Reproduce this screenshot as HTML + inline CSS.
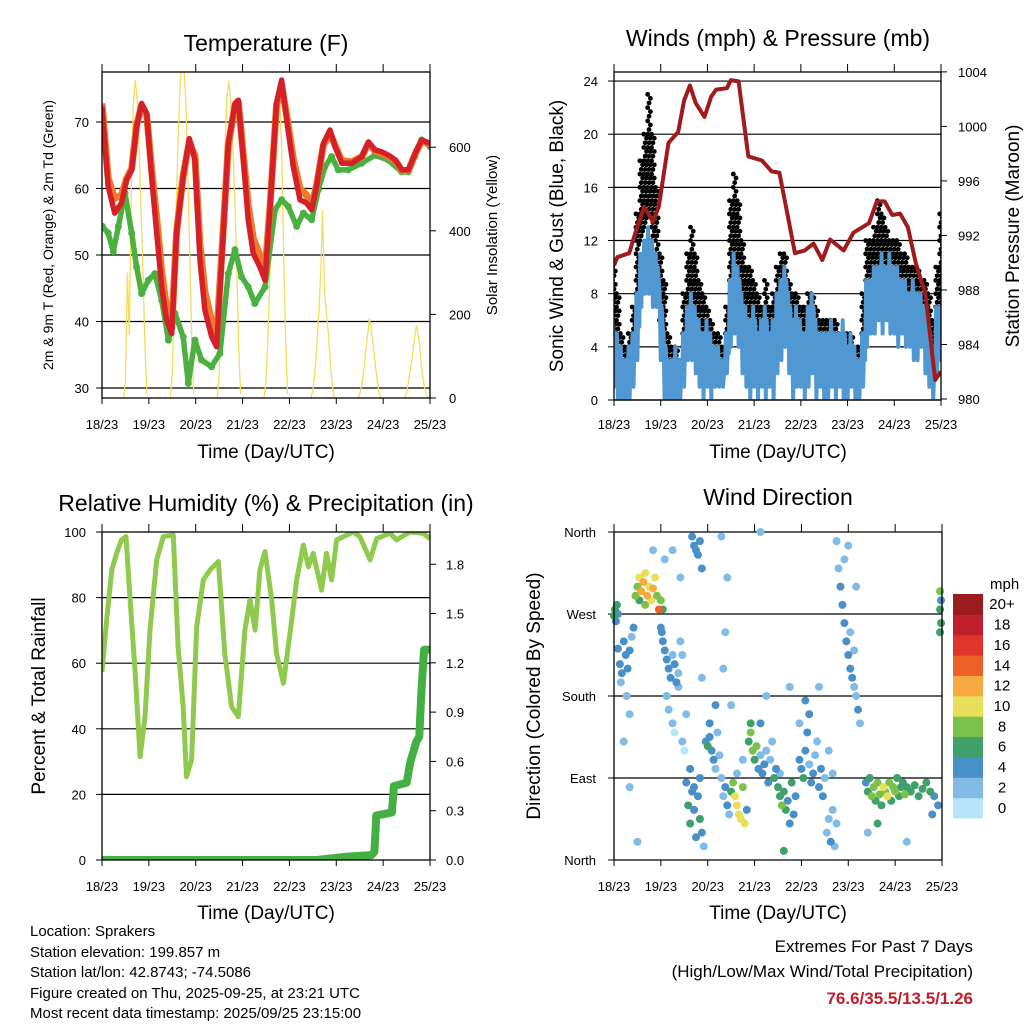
<!DOCTYPE html>
<html><head><meta charset="utf-8"><style>
html,body{margin:0;padding:0;background:#fff;}
svg{display:block;font-family:"Liberation Sans",Arial,sans-serif;}
</style></head><body>
<svg id="s" width="1024" height="1024" viewBox="0 0 1024 1024" xmlns="http://www.w3.org/2000/svg">
<defs>
<clipPath id="cT"><rect x="102" y="72" width="328" height="326"/></clipPath>
<clipPath id="cW"><rect x="614" y="72" width="327" height="328"/></clipPath>
<clipPath id="cR"><rect x="102" y="532" width="328" height="328"/></clipPath>
<clipPath id="cD"><rect x="610" y="526" width="336" height="338"/></clipPath>
</defs>
<g id="gT"></g>
<g id="gW"></g>
<g id="gR"></g>
<g id="gD"></g>
<g font-size="15" fill="#000">
<text x="30" y="936">Location: Sprakers</text>
<text x="30" y="957">Station elevation: 199.857 m</text>
<text x="30" y="977">Station lat/lon: 42.8743; -74.5086</text>
<text x="30" y="998">Figure created on Thu, 2025-09-25, at 23:21 UTC</text>
<text x="30" y="1018">Most recent data timestamp: 2025/09/25 23:15:00</text>
</g>
<g text-anchor="end">
<text x="973" y="952" font-size="17">Extremes For Past 7 Days</text>
<text x="973" y="977" font-size="17">(High/Low/Max Wind/Total Precipitation)</text>
<text x="973" y="1004" font-size="17" font-weight="bold" fill="#c0202a">76.6/35.5/13.5/1.26</text>
</g>
</svg>
<script>
// ---------- DATA ----------
const dayLabels = ["18/23","19/23","20/23","21/23","22/23","23/23","24/23","25/23"];
const tempTicks = [30,40,50,60,70];
const solarTicks = [0,200,400,600];
const redT = [0,3.2,6.5,10,12.6,15.2,17.7,20.3,22.9,25.4,28,30.6,33.1,35.7,38.2,41.6,44.7,47.6,50.2,52.7,56.2,58.7,61.3,64.7,68.1,69.8,72.4,74.9,77.5,80.9,83.5,86,89.4,92,94.6,98,101.4,104.8,107.4,109.9,113.4,116.8,119.4,122.8,127.9,133.1,136.5,139.9,143.4,146.8,150.2,153.6,157,160.4,163.8,168];
const redV = [72.3,60.3,56.3,57.8,61.3,62.8,69.3,72.8,71.3,61.8,53.3,45.2,40.2,38.2,53.3,61.8,67.5,64.3,49.2,41.7,37.7,36.2,49.2,66.8,72.8,73.3,64.3,55.3,50.2,48.2,46.2,56.8,72.8,76.3,70.3,63.3,58.3,57.8,56.8,60.3,66.8,68.8,66.3,63.8,63.8,64.8,67.0,65.8,65.5,65.0,64.3,62.8,62.8,65.3,67.3,66.8];
const orangeV = [72.8,61.5,58.5,59,61.5,63,69.5,72.5,71,63,55.5,47.5,42,39,53.5,62,67,65,51.5,44.5,40,37.5,50,66.5,72.5,73,65,57.5,52.5,50,47.5,57,72.5,75.5,71,64.5,60,59,57.5,60.5,66.5,68.3,66.5,64.2,64,64.8,66.8,65.6,65.3,64.8,64.2,62.7,62.7,65.2,67.2,66.6];
const dewT = [0.2,3.2,5.8,8.4,11.8,15.2,17.7,20.3,23.7,27.1,30.6,34,37.4,41.6,44.2,47.6,51,56.1,60.4,64.7,68.1,71.5,74.9,78.3,83.5,88.6,92,95.4,99.7,103.1,107.4,110.8,114.2,117.6,121,126.1,133,139.8,146.6,153.5,156.9,160.3,163.7,168];
const dewV = [54.3,53.3,50.5,54.3,59.3,53.3,48.2,44.2,46.2,47.2,43.2,37.2,41.2,37.7,30.7,37.2,34.2,33.2,35.2,47.2,50.8,46.7,45.2,42.7,45.2,56.8,58.3,57.3,54.3,56.3,55.3,59.8,63.3,64.8,62.8,62.8,63.8,65.0,64.3,62.5,62.5,64.8,67.3,66.3];
const solarDay0 = [0,40,300,150,500,700,760,720,600,450,300,120,10];
const solarDay1 = [0,60,250,450,620,750,800,790,700,520,330,130,10];
const solarDay2 = [0,50,230,430,600,720,760,700,600,480,320,120,10];
const solarDay3 = [0,40,150,300,500,650,700,740,720,600,350,150,10];
const solarDay4 = [0,20,60,120,200,300,450,250,200,150,80,30,0];
const solarDay5 = [0,10,30,60,110,150,190,160,120,80,40,10,0];
const solarDay6 = [0,10,40,70,100,140,175,150,110,60,30,10,0];

const windTicks = [0,4,8,12,16,20,24];
const presTicks = [980,984,988,992,996,1000,1004];
const windStepHours = 2;
const windLow  = [1,0,0,0,0,1,3,7,8,8,7,7,3,0,0,0,0,0,1,3,3,2,1,0,1,0,1,1,1,2,4,5,4,2,1,0,1,0,1,0,1,0,2,3,4,2,0,1,1,0,1,2,0,1,0,0,1,0,1,0,0,1,0,0,1,4,5,5,6,5,6,5,5,4,5,4,4,3,3,4,2,1,0,2,3];
const windHigh = [6,5,4,3,4,5,8,11,12,13,12,11,8,5,3,3,4,3,5,7,8,7,6,5,6,5,4,4,3,5,9,11,10,8,7,6,7,5,6,7,5,6,8,9,10,8,6,7,6,5,7,8,6,5,5,5,6,5,5,6,4,5,4,3,5,9,9,10,10,11,10,11,10,10,9,9,8,9,8,8,7,6,3,7,7];
const gustLow  = [5,3,2,2,2,3,8,12,13,14,12,10,6,4,2,2,2,2,4,6,7,6,5,4,4,3,3,3,2,3,8,9,8,6,5,5,4,4,4,4,3,4,6,7,8,6,4,5,4,4,5,5,4,3,3,3,3,3,3,3,2,2,2,2,4,8,9,9,10,10,9,9,9,8,8,7,7,7,6,6,6,5,3,5,6];
const gustHigh = [10,8,5,4,5,7,14,18,20,23,20,16,11,9,5,4,4,3,8,11,13,11,9,8,7,6,5,5,4,7,15,17,15,12,10,10,9,8,7,9,7,8,10,11,11,9,8,8,7,7,8,8,7,6,6,6,6,6,5,5,5,5,4,4,8,12,12,13,15,14,13,12,12,12,11,11,10,10,10,9,9,8,6,10,14];
const presT = [0,1.7,7.8,11,15.5,20,23,28,33,36,39,42,46.5,50,52.5,58,60,64,69,76,81,85,93,98,102.5,107,111,118,123,131,135,139,143,147,151,155,160,165,168];
const presV = [989.8,990.4,990.7,992.2,994.1,993.0,994.1,998.8,999.6,1001.9,1003.0,1001.7,1000.7,1002.2,1002.7,1002.8,1003.4,1003.3,997.8,997.5,996.7,996.6,990.7,990.9,991.4,990.2,991.7,990.9,992.2,992.9,994.5,994.5,993.5,993.6,992.6,990.0,987.7,981.4,982.0];

const rhTicks = [0,20,40,60,80,100];
const rainTicks = ["0.0","0.3","0.6","0.9","1.2","1.5","1.8"];
const rhT = [0,2.4,5,7.5,10,12.3,14.3,16.9,19.5,22,24.6,28,31.4,36.5,39,41.6,43.3,45.9,48.5,51.9,55.3,59.6,62.9,66.4,69.8,73.2,75.8,78.4,80.9,83.5,86.9,89.4,92.9,96.3,99.7,103.1,105.7,108.2,112.5,115,117.6,120.2,128.7,132.1,137.3,140.7,147.5,150.9,157.7,164.5,168];
const rhV = [57.4,73.2,88.4,93.5,97.6,98.6,80.3,57.9,31.5,43.7,70.1,91.5,98.6,99.1,65,46.7,25.4,30.5,71.1,85.4,88.4,91,63,46.7,43.7,70.1,79.3,70.1,88.4,94,79.3,63,53.9,69.1,85.4,96,89.4,93.5,82.3,93.5,85.4,97.6,100,98.6,91.5,98,99.6,97.6,100,99.6,98];
const rainT = [0,110,125,138,139.5,140.5,148.5,149.5,156,158,161,162.5,163.5,164.5,165,168];
const rainV = [0,0,0.02,0.03,0.05,0.27,0.29,0.45,0.47,0.6,0.72,0.75,1.0,1.2,1.28,1.28];

const dirLabels = ["North","West","South","East","North"];
const dirTickDeg = [360,270,180,90,0];
const dirT = [0,0.5,1,1.5,2, 2,3,4,5,6,7,8,9,10,3.5,6.5,8, 11,12,13,14,15,16,17,18,19,20,21,22,23,24,25,13,16, 24,25,26,27,28,29,30,31,32,33,34,35,24.5, 27,28,30,31,33,35,36,37,26,30,34, 37,38,39,40,41,42,43,44,45,46,39,41,44, 40,41,42,44,45,43, 47,48,49,50,51,52,53,54,49,52, 55,56,57,58,60,61,62,63,64,65,66,67,68,59,63,66,56,57,58, 69,70,71,72,73,70, 74,75,76,77,78,79,80,81,82,83,75,78, 84,85,86,87,88,89,90,91,92,93,87,85, 95,96,97,98,99,100,101,102,103,104,105,106,107,108,110,112,100,98, 109,110,111,112,113,114, 114,115,116,117,118,119,120,121,122,123,124,125,118,121,123,126,120,124, 129,130,131,132,133,134,135,136,137,138,139,140,141,142,143,144,145,146,147,148,149,150,152,154,156,158,160,162,164,166,163,135, 167,167,167.5,167,167.5, 5,8,12,20,45,60,90,95,105,130,150,55,75];
const dirDeg = [268,275,262,280,270, 232,215,205,240,225,210,230,245,255,195,180,160, 290,300,310,295,305,315,290,300,285,298,310,290,275,285,275,285,280, 255,240,230,220,210,200,225,215,195,205,240,225,250, 180,165,150,140,190,130,120,160,330,340,310, 85,60,40,75,55,25,70,45,30,15,100,80,90, 355,345,340,350,320,335, 130,125,135,120,110,100,140,115,150,170, 90,70,80,60,75,85,70,60,50,45,80,40,55,50,95,110,210,250,310, 130,140,120,110,125,150, 100,115,95,105,120,85,110,130,90,100,150,180, 80,70,60,75,55,65,40,85,50,70,10,95, 110,100,90,120,140,105,85,95,115,130,80,100,70,90,120,95,160,175, 30,45,20,55,15,40, 350,320,300,280,260,240,225,210,200,190,180,165,330,250,230,150,345,300, 85,75,90,70,80,65,85,72,60,80,75,70,85,65,80,75,90,70,80,85,72,80,75,82,70,78,85,75,70,60,50,40, 295,275,260,250,285, 130,80,20,340,200,170,190,150,190,30,20,355,360];
const dirSpd = [5,6,4,5,3, 4,4,3,3,4,4,3,2,3,1,1,1, 7,8,10,12,11,10,12,9,10,11,9,8,14,7,6,6,8, 4,4,3,4,3,4,2,3,4,2,2,2,3, 1,1,1,0,1,1,0,1,1,1,1, 4,5,6,3,4,4,3,6,3,2,3,3,3, 3,4,3,4,3,3, 4,5,3,4,3,2,1,2,3,3, 2,1,4,4,6,8,9,10,10,9,7,9,3,2,2,1,1,1,1, 6,7,8,6,7,6, 3,2,4,3,2,3,2,2,5,3,3,1, 5,6,7,6,5,4,4,6,4,3,6,2, 4,3,6,3,3,2,4,3,2,2,3,3,4,2,1,1,3,4, 2,2,3,2,2,1, 2,2,3,4,3,3,4,3,3,2,2,3,2,2,1,1,1,1, 4,5,6,7,8,6,7,8,6,9,8,10,7,6,8,7,6,5,6,5,7,6,5,6,5,6,5,5,4,3,3,5, 7,6,5,5,4, 1,1,1,1,1,1,1,1,1,1,1,1,1];
const speedLabels = ["0","2","4","6","8","10","12","14","16","18","20+"];
const speedColors = ["#b8e4f8","#80bce6","#4a90c8","#3fa06a","#7ac24a","#e8e05a","#f8a840","#f0612a","#e0352a","#c0202a","#9b1b1e"];

// ---------- HELPERS ----------
const NS = "http://www.w3.org/2000/svg";
function mk(parent, tag, attrs, txt){
  const e = document.createElementNS(NS, tag);
  for (const k in attrs) e.setAttribute(k, attrs[k]);
  if (txt !== undefined) e.textContent = txt;
  parent.appendChild(e);
  return e;
}
function pathFrom(ts, vs, fx, fy){
  let d = "";
  for (let i=0;i<ts.length;i++) d += (i?"L":"M") + fx(ts[i]).toFixed(1) + "," + fy(vs[i]).toFixed(1);
  return d;
}
function xAxis(g, x0, x1, y, labY, titleY, titleX){
  for (let k=0;k<dayLabels.length;k++){
    const x = x0 + k*(x1-x0)/7;
    const tk = mk(g,"line",{x1:x,x2:x,y1:y,y2:y+6,stroke:"#000","stroke-width":1});
    
    
    const lb = mk(g,"text",{x:x,y:labY,"font-size":13,"text-anchor":"middle"},dayLabels[k]);
    
    
  }
  const t = mk(g,"text",{x:titleX,y:titleY,"font-size":19,"text-anchor":"middle"},"Time (Day/UTC)");
  
  
}
function frame(g, x, y, w, h){
  const r = mk(g,"rect",{x:x,y:y,width:w,height:h,fill:"none",stroke:"#000","stroke-width":1.3});
  
  
}

// ---------- TEMPERATURE ----------
(function(){
  const g = document.getElementById("gT");
  const X = t => 102 + t/168*328;
  const Y = v => 388 - (v-30)*6.65;
  const YS = v => 398 - v*0.418;
  const ti = mk(g,"text",{x:266,y:51,"font-size":23,"text-anchor":"middle"},"Temperature (F)");
  
  
  tempTicks.forEach(v=>{
    const ln = mk(g,"line",{x1:102,x2:430,y1:Y(v),y2:Y(v),stroke:"#000","stroke-width":1.2});
    
    
    const lb = mk(g,"text",{x:89,y:Y(v)+5,"font-size":13,"text-anchor":"end"},String(v));
    
    
    mk(g,"line",{x1:96,x2:102,y1:Y(v),y2:Y(v),stroke:"#000"});
  });
  solarTicks.forEach(v=>{
    const lb = mk(g,"text",{x:449,y:YS(v)+5,"font-size":13,"text-anchor":"start"},String(v));
    
    
    mk(g,"line",{x1:430,x2:436,y1:YS(v),y2:YS(v),stroke:"#000"});
  });
  const c = mk(g,"g",{"clip-path":"url(#cT)"});
  const days = [solarDay0,solarDay1,solarDay2,solarDay3,solarDay4,solarDay5,solarDay6];
  days.forEach((arr,d)=>{
    const ts = arr.map((_,i)=> d*24 + 11 + i);
    const p = mk(c,"path",{d:pathFrom(ts,arr,X,YS),fill:"none",stroke:"#f5dc5a","stroke-width":1.3});
    
    
  });
  const dp = mk(c,"path",{d:pathFrom(dewT,dewV,X,Y),fill:"none",stroke:"#4bb040","stroke-width":5.5,"stroke-linejoin":"round","stroke-linecap":"round"});
  
  
  dewT.forEach((t,i)=>{
    const pt = mk(c,"circle",{cx:X(t),cy:Y(dewV[i]),r:3.5,fill:"#4bb040"});
    
    
  });
  const op = mk(c,"path",{d:pathFrom(redT,orangeV,X,Y),fill:"none",stroke:"#f07a2a","stroke-width":7,"stroke-linejoin":"round"});
  
  
  const rp = mk(c,"path",{d:pathFrom(redT,redV,X,Y),fill:"none",stroke:"#d42028","stroke-width":5.5,"stroke-linejoin":"round"});
  
  
  frame(g,102,72,328,326);
  xAxis(g,102,430,398,429,458,266);
  for (let k=0;k<8;k++){ const x=102+k*328/7; mk(g,"line",{x1:x,x2:x,y1:64,y2:72,stroke:"#000"}); }
  const yl = mk(g,"text",{transform:"translate(53,235) rotate(-90)","font-size":14,"text-anchor":"middle"},"2m & 9m T (Red, Orange) & 2m Td (Green)");
  
  
  const yr = mk(g,"text",{transform:"translate(497,235) rotate(-90)","font-size":15,"text-anchor":"middle"},"Solar Insolation (Yellow)");
  
  
})();

// ---------- WINDS ----------
(function(){
  const g = document.getElementById("gW");
  const X = t => 614 + t/168*327;
  const Y = v => 400 - v*13.29;
  const YP = v => 399 - (v-980)*13.63;
  const ti = mk(g,"text",{x:778,y:46,"font-size":23,"text-anchor":"middle"},"Winds (mph) & Pressure (mb)");
  
  
  windTicks.forEach(v=>{
    const ln = mk(g,"line",{x1:614,x2:941,y1:Y(v),y2:Y(v),stroke:"#000","stroke-width":1.2});
    
    
    const lb = mk(g,"text",{x:598,y:Y(v)+5,"font-size":13,"text-anchor":"end"},String(v));
    
    
    mk(g,"line",{x1:608,x2:614,y1:Y(v),y2:Y(v),stroke:"#000"});
  });
  presTicks.forEach(v=>{
    const lb = mk(g,"text",{x:958,y:YP(v)+5,"font-size":13,"text-anchor":"start"},String(v));
    
    
    mk(g,"line",{x1:941,x2:947,y1:YP(v),y2:YP(v),stroke:"#000"});
  });
  const c = mk(g,"g",{"clip-path":"url(#cW)"});
  const offs = [[-0.7,0],[0,0.35],[0.7,0.7]];
  for (let i=0;i<gustLow.length;i++){
    const t = i*windStepHours;
    for (let v=gustLow[i]; v<=gustHigh[i]; v+=1){
      for (let j=0;j<3;j++){
        const vv = v + offs[j][1];
        if (vv > gustHigh[i]) continue;
        const dot = mk(c,"circle",{cx:X(t + offs[j][0]),cy:Y(vv),r:2.4,fill:"#000"});
        
        
      }
    }
  }
  let d = "";
  for (let i=0;i<windLow.length;i++){
    const t = i*windStepHours;
    d += (i?"L":"M") + X(t-0.5).toFixed(1)+","+Y(windHigh[i]).toFixed(1);
    d += "L" + X(t).toFixed(1)+","+Y(windLow[i]).toFixed(1);
    d += "L" + X(t+0.5).toFixed(1)+","+Y(windHigh[i]-1).toFixed(1);
    d += "L" + X(t+1).toFixed(1)+","+Y((windLow[i]+windHigh[i])/2).toFixed(1);
  }
  const wp = mk(c,"path",{d:d,fill:"none",stroke:"#5197d2","stroke-width":4,"stroke-linejoin":"round"});
  
  
  const pp = mk(c,"path",{d:pathFrom(presT,presV,X,YP),fill:"none",stroke:"#a01c1c","stroke-width":4,"stroke-linejoin":"round"});
  
  
  frame(g,614,72,327,328);
  xAxis(g,614,941,400,429,458,778);
  for (let k=0;k<8;k++){ const x=614+k*327/7; mk(g,"line",{x1:x,x2:x,y1:64,y2:72,stroke:"#000"}); }
  const yl = mk(g,"text",{transform:"translate(563,236) rotate(-90)","font-size":19,"text-anchor":"middle"},"Sonic Wind & Gust (Blue, Black)");
  
  
  const yr = mk(g,"text",{transform:"translate(1019,236) rotate(-90)","font-size":19,"text-anchor":"middle"},"Station Pressure (Maroon)");
  
  
})();

// ---------- HUMIDITY / PRECIP ----------
(function(){
  const g = document.getElementById("gR");
  const X = t => 102 + t/168*328;
  const Y = v => 860 - v*3.28;
  const YR = v => 860 - v*164.3;
  const ti = mk(g,"text",{x:266,y:511,"font-size":23,"text-anchor":"middle"},"Relative Humidity (%) & Precipitation (in)");
  
  
  rhTicks.forEach(v=>{
    if (v>0 && v<100){
      const ln = mk(g,"line",{x1:102,x2:430,y1:Y(v),y2:Y(v),stroke:"#000","stroke-width":1.2});
      
      
    }
    const lb = mk(g,"text",{x:86,y:Y(v)+5,"font-size":13,"text-anchor":"end"},String(v));
    
    
    mk(g,"line",{x1:96,x2:102,y1:Y(v),y2:Y(v),stroke:"#000"});
  });
  rainTicks.forEach(s=>{
    const v = parseFloat(s);
    const lb = mk(g,"text",{x:446,y:YR(v)+5,"font-size":13,"text-anchor":"start"},s);
    
    
    mk(g,"line",{x1:430,x2:436,y1:YR(v),y2:YR(v),stroke:"#000"});
  });
  const c = mk(g,"g",{"clip-path":"url(#cR)"});
  const rp = mk(c,"path",{d:pathFrom(rhT,rhV,X,Y),fill:"none",stroke:"#8fca4e","stroke-width":5,"stroke-linejoin":"round"});
  
  
  const pp = mk(c,"path",{d:pathFrom(rainT,rainV,X,YR),fill:"none",stroke:"#44b044","stroke-width":8,"stroke-linejoin":"round","stroke-linecap":"round"});
  
  
  frame(g,102,532,328,328);
  xAxis(g,102,430,860,891,919,266);
  for (let k=0;k<8;k++){ const x=102+k*328/7; mk(g,"line",{x1:x,x2:x,y1:524,y2:532,stroke:"#000"}); }
  const yl = mk(g,"text",{transform:"translate(45,696) rotate(-90)","font-size":19,"text-anchor":"middle"},"Percent & Total Rainfall");
  
  
})();

// ---------- WIND DIRECTION ----------
(function(){
  const g = document.getElementById("gD");
  const X = t => 614 + t/168*328;
  const Y = d => 860 - d*328/360;
  const ti = mk(g,"text",{x:778,y:505,"font-size":23,"text-anchor":"middle"},"Wind Direction");
  
  
  dirTickDeg.forEach((dg,i)=>{
    const ln = mk(g,"line",{x1:614,x2:942,y1:Y(dg),y2:Y(dg),stroke:"#000","stroke-width":1.2});
    
    
    const lb = mk(g,"text",{x:596,y:Y(dg)+5,"font-size":13,"text-anchor":"end"},dirLabels[i]);
    
    
    mk(g,"line",{x1:608,x2:614,y1:Y(dg),y2:Y(dg),stroke:"#000"});
  });
  const c = mk(g,"g",{"clip-path":"url(#cD)"});
  const order = dirT.map((_,i)=>i).sort((a,b)=>dirSpd[a]-dirSpd[b]);
  order.forEach(i=>{
    const bin = Math.min(10, Math.floor(dirSpd[i]/2 + 0.5));
    const dot = mk(c,"circle",{cx:X(dirT[i]),cy:Y(dirDeg[i]),r:4,fill:speedColors[bin]});
    
    
  });
  mk(g,"line",{x1:614,x2:614,y1:532,y2:860,stroke:"#000","stroke-width":1.3});
  mk(g,"line",{x1:942,x2:942,y1:532,y2:860,stroke:"#000","stroke-width":1.3});
  xAxis(g,614,942,860,891,919,778);
  for (let k=0;k<8;k++){ const x=614+k*328/7; mk(g,"line",{x1:x,x2:x,y1:524,y2:532,stroke:"#000"}); }
  const yl = mk(g,"text",{transform:"translate(540,696) rotate(-90)","font-size":19,"text-anchor":"middle"},"Direction (Colored By Speed)");
  
  
  const cb = mk(g,"g",{});
  
  
  const u = mk(cb,"text",{x:990,y:589,"font-size":15},"mph");
  
  
  const bh = 224/11;
  for (let k=0;k<11;k++){
    const y = 594 + (10-k)*bh;
    const r = mk(cb,"rect",{x:953,y:y.toFixed(1),width:30,height:(bh+0.5).toFixed(1),fill:speedColors[k]});
    
    
    const t = mk(cb,"text",{x:1002,y:(y+bh/2+5).toFixed(1),"font-size":15,"text-anchor":"middle"},speedLabels[k]);
    
    
  }
})();
</script>
</body></html>
